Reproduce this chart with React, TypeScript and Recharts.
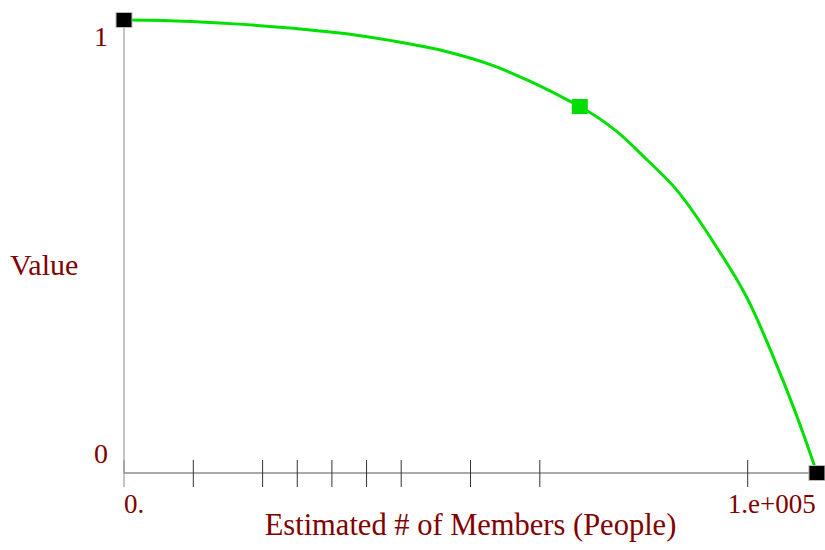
import { LineChart, Line, XAxis, YAxis } from "recharts";

// Estimated # of members vs. value
const members = [
  0, 6250, 17000, 27700, 35700, 42600, 51800, 58650, 65050, 71450, 73077,
  79000, 83800, 88600, 95000, 99800, 105600, 108300, 111100,
];
const values = [
  1.0, 0.999, 0.992, 0.981, 0.9695, 0.955, 0.93, 0.902, 0.865, 0.821, 0.809,
  0.754, 0.692, 0.625, 0.499, 0.389, 0.206, 0.11, 0,
];

const xTicks = [0, 11111, 22222, 27778, 33333, 38889, 44444, 55556, 66667, 100000];
const xTickLabels: Record<number, string> = { 0: "0.", 100000: "1.e+005" };
const yTicks = [0, 1];
const highlightMember = 73077;

const FONT = '"Liberation Serif", "Times New Roman", serif';
const TEXT = "#800000";

const chartData = members.map((m, i) => ({ members: m, value: values[i] }));

type TickProps = { x?: number; y?: number; payload?: { value: number } };

function XTick({ x = 0, y = 0, payload }: TickProps) {
  const v = payload?.value ?? 0;
  const label = xTickLabels[v];
  return (
    <g>
      <line
        x1={x}
        x2={x}
        y1={y - 13}
        y2={y + 14}
        stroke={v === 0 ? "#888888" : "#333333"}
        strokeWidth={1}
      />
      {label && (
        <text
          x={v === 0 ? x : x - 20}
          y={y + 40}
          textAnchor="start"
          fill={TEXT}
          fontFamily={FONT}
          fontSize={27}
        >
          {label}
        </text>
      )}
    </g>
  );
}

function YTick({ x = 0, y = 0, payload }: TickProps) {
  const v = payload?.value ?? 0;
  return (
    <text
      x={x - 16}
      y={v === 1 ? y + 26 : y - 10}
      textAnchor="end"
      fill={TEXT}
      fontFamily={FONT}
      fontSize={28}
    >
      {v}
    </text>
  );
}

export default function App() {
  const renderDot = ({
    cx,
    cy,
    index,
    payload,
  }: {
    cx?: number;
    cy?: number;
    index?: number;
    payload?: { members: number };
  }) => {
    if (cx == null || cy == null || index == null) return <g key={`d${index}`} />;
    const isEnd = index === 0 || index === chartData.length - 1;
    const isHighlight = payload?.members === highlightMember;
    if (!isEnd && !isHighlight) return <g key={`d${index}`} />;
    return (
      <rect
        key={`d${index}`}
        x={cx - 8}
        y={cy - 7.5}
        width={16}
        height={15}
        fill={isEnd ? "#000000" : "#00dd00"}
        stroke={isEnd ? "#bbbbbb" : "none"}
        strokeWidth={1}
      />
    );
  };

  return (
    <div style={{ position: "absolute", left: 0, top: 0, width: 825, height: 550, background: "#fff" }}>
      <LineChart
        width={825}
        height={550}
        data={chartData}
        margin={{ top: 20, right: 8, bottom: 0, left: 0 }}
      >
        <XAxis
          type="number"
          dataKey="members"
          domain={[0, 111111]}
          ticks={xTicks}
          interval={0}
          height={77}
          axisLine={{ stroke: "#555555", strokeWidth: 1 }}
          tickLine={false}
          tickSize={0}
          tickMargin={0}
          tick={<XTick />}
          label={{
            content: ({ viewBox }: { viewBox?: { x: number; y: number; width: number } }) =>
              viewBox ? (
                <text
                  x={viewBox.x + viewBox.width / 2}
                  y={viewBox.y + 62}
                  textAnchor="middle"
                  fill={TEXT}
                  fontFamily={FONT}
                  fontSize={30.5}
                >
                  Estimated # of Members (People)
                </text>
              ) : null,
          }}
        />
        <YAxis
          type="number"
          domain={[0, 1]}
          ticks={yTicks}
          width={124}
          axisLine={{ stroke: "#888888", strokeWidth: 1 }}
          tickLine={false}
          tickSize={0}
          tickMargin={0}
          tick={<YTick />}
          label={{
            content: ({ viewBox }: { viewBox?: { x: number; y: number } }) =>
              viewBox ? (
                <text
                  x={10}
                  y={viewBox.y + 255}
                  textAnchor="start"
                  fill={TEXT}
                  fontFamily={FONT}
                  fontSize={30}
                >
                  Value
                </text>
              ) : null,
          }}
        />
        <Line
          type="monotone"
          dataKey="value"
          stroke="#00e000"
          strokeWidth={3}
          dot={renderDot}
          activeDot={false}
          isAnimationActive={false}
        />
      </LineChart>
    </div>
  );
}
